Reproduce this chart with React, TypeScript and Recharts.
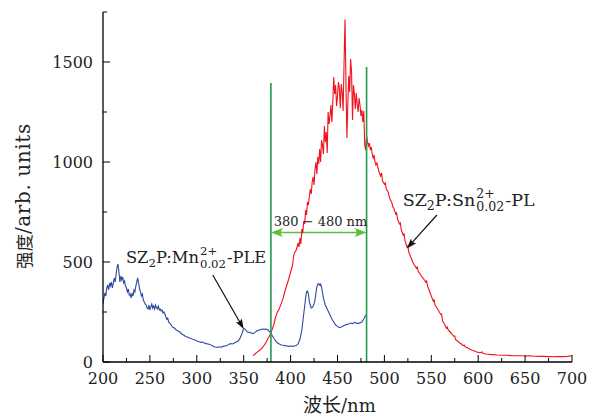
import React from 'react';
import { LineChart, Line, XAxis, YAxis, ReferenceLine, ReferenceDot, Label } from 'recharts';

// ---- data ----
const pleWavelength = [200,201,202,203,204,205,206,207,208,209,210,211,212,213,214,215,216,217,218,219,220,221,222,223,224,225,226,227,228,229,230,231,232,233,234,235,236,237,238,239,240,241,242,243,244,245,246,247,248,249,250,251,252,253,254,255,256,257,258,259,260,261,262,263,264,265,266,267,268,269,270,272,274,276,278,280,282,284,286,288,290,292,294,296,298,300,302,304,306,308,310,312,314,316,318,320,322,324,326,328,330,332,334,336,338,340,342,344,346,348,350,352,354,356,358,360,362,364,366,368,370,372,374,376,378,380,382,384,386,388,390,392,394,396,398,400,402,404,406,408,410,412,414,416,417,418,419,420,421,422,423,424,425,426,427,428,429,430,431,432,433,434,435,436,437,438,440,442,444,446,448,450,452,454,456,458,460,462,464,466,468,470,472,474,476,478,480];
const pleIntensity = [290,320,345,330,370,385,360,395,380,400,370,395,420,400,440,475,490,450,400,430,410,425,395,405,380,370,350,365,335,340,320,345,330,360,350,380,400,420,395,365,350,330,340,310,300,290,285,270,265,285,260,275,290,270,280,265,285,270,265,280,260,265,255,260,245,250,240,225,215,220,200,190,175,170,160,155,150,140,135,128,125,120,118,112,110,105,102,98,100,95,92,90,88,82,78,75,73,76,74,78,80,82,88,92,90,95,100,105,118,140,168,162,150,148,145,142,148,155,160,162,165,163,165,160,150,135,120,105,95,90,85,84,82,80,78,80,78,80,82,90,115,160,240,320,350,355,340,300,285,270,272,280,290,310,345,375,390,392,385,390,375,345,320,300,285,275,255,235,215,200,185,178,172,175,180,185,188,190,195,192,198,195,192,196,200,215,235];

const plWavelength = [360,362,364,366,368,370,372,374,376,378,380,382,384,386,388,390,392,394,396,398,400,402,403,404,406,408,409,410,411,412,413,414,415,416,417,418,419,420,421,422,423,424,425,426,427,428,429,430,431,432,433,434,435,436,437,438,439,440,441,442,443,444,445,446,447,448,449,450,451,452,453,454,455,456,457,458,459,460,461,462,463,464,465,466,467,468,469,470,471,472,473,474,475,476,477,478,479,480,481,482,483,484,485,486,487,488,489,490,491,492,494,496,497,498,500,501,502,504,505,506,508,509,510,512,513,514,516,517,518,520,521,522,524,525,526,528,529,530,532,534,535,536,538,540,542,544,545,546,548,550,552,553,554,556,558,560,561,562,564,566,567,568,570,572,574,575,576,578,580,582,584,585,586,588,590,592,594,596,598,600,602,604,605,608,612,616,620,625,630,635,640,645,650,655,660,665,670,675,680,685,690,695,700];
const plIntensity = [32,40,48,55,62,72,85,100,118,135,158,185,225,250,268,292,318,355,385,415,450,480,520,545,560,595,575,620,590,665,645,705,690,760,735,800,785,830,865,840,900,925,885,965,1000,940,1025,990,1065,1000,1110,1085,1040,1180,1100,1150,1045,1250,1190,1230,1285,1200,1300,1425,1340,1385,1280,1330,1400,1370,1270,1390,1350,1255,1500,1712,1400,1120,1285,1430,1350,1515,1450,1210,1385,1340,1265,1345,1290,1250,1320,1285,1230,1260,1200,1255,1085,1060,1130,1100,1080,1095,1060,1075,1040,1020,1035,1000,985,995,955,930,945,905,890,895,865,850,830,815,795,775,770,740,745,715,690,695,660,635,640,605,575,580,550,525,515,500,485,470,475,455,440,425,415,400,405,380,355,330,305,310,285,270,255,238,240,205,190,170,175,160,150,140,128,130,112,105,96,90,82,85,76,72,66,62,58,55,51,48,46,50,44,40,38,37,35,34,34,32,31,31,30,31,29,28,28,27,26,27,27,28,31];

const xTicks = [200,225,250,275,300,325,350,375,400,425,450,475,500,525,550,575,600,625,650,675,700];
const xMajorTicks = [200,250,300,350,400,450,500,550,600,650,700];
const yTicks = [0,250,500,750,1000,1250,1500,1750];
const yMajorTicks = [0,500,1000,1500];

const bandEdges = [379, 481];
const bandLineTops = [1395, 1475];
const bandArrowLevel = 648;

const pleData = pleWavelength.map((x, i) => ({ x, y: pleIntensity[i] }));
const plData = plWavelength.map((x, i) => ({ x, y: plIntensity[i] }));

// ---- styles ----
const SERIF = 'DejaVu Serif';
const CJK = 'Noto Sans CJK SC';
const BLUE = '#2d4aa0';
const RED = '#f0121c';
const GREEN = '#1f9a4c';
const LIGHT_GREEN = '#5dc03a';

const BottomTick = (props: any) => {
  const { x, y, payload } = props;
  const v = payload.value;
  const major = xMajorTicks.includes(v);
  return (
    <g>
      <line x1={x} x2={x} y1={y} y2={y - (major ? 7 : 4)} stroke="#000" strokeWidth={1} />
      {major && (
        <text x={x} y={y + 21.5} textAnchor="middle" fontFamily={SERIF} fontSize={16} fill="#222">{v}</text>
      )}
    </g>
  );
};

const LeftTick = (props: any) => {
  const { x, y, payload } = props;
  const v = payload.value;
  const major = yMajorTicks.includes(v);
  return (
    <g>
      <line x1={x} x2={x + (major ? 7 : 4)} y1={y} y2={y} stroke="#000" strokeWidth={1} />
      {major && (
        <text x={x - 10} y={y + 6} textAnchor="end" fontFamily={SERIF} fontSize={16} fill="#222">{v}</text>
      )}
    </g>
  );
};

const TopTick = (props: any) => {
  const { x, y } = props;
  return <line x1={x} x2={x} y1={y} y2={y + 3} stroke="#000" strokeWidth={1} />;
};

const RightTick = (props: any) => {
  const { x, y } = props;
  return <line x1={x} x2={x - 4} y1={y} y2={y} stroke="#000" strokeWidth={1} />;
};

const DoubleArrow = (p: any) => {
  const { x1, y1, x2 } = p;
  const L = 12;
  const W = 4.5;
  const y = y1;
  return (
    <g>
      <line x1={x1 + 4} y1={y} x2={x2 - 4} y2={y} stroke={LIGHT_GREEN} strokeWidth={1.5} />
      <path d={`M${x1},${y} L${x1 + L},${y - W} Q${x1 + L - 4},${y} ${x1 + L},${y + W} Z`} fill={LIGHT_GREEN} />
      <path d={`M${x2},${y} L${x2 - L},${y - W} Q${x2 - L + 4},${y} ${x2 - L},${y + W} Z`} fill={LIGHT_GREEN} />
    </g>
  );
};

const PointerArrow = (p: any) => {
  const { x1, y1, x2, y2 } = p;
  const dx = x2 - x1;
  const dy = y2 - y1;
  const len = Math.sqrt(dx * dx + dy * dy);
  const ux = dx / len;
  const uy = dy / len;
  const L = 10;
  const W = 3.5;
  const bx = x2 - ux * L;
  const by = y2 - uy * L;
  const px = -uy;
  const py = ux;
  return (
    <g>
      <line x1={x1} y1={y1} x2={bx + ux * 2} y2={by + uy * 2} stroke="#111" strokeWidth={1.2} />
      <path
        d={`M${x2},${y2} L${bx + px * W},${by + py * W} Q${bx + ux * 3},${by + uy * 3} ${bx - px * W},${by - py * W} Z`}
        fill="#111"
      />
    </g>
  );
};

const SampleLabel = (props: any, ion: string, kind: string, size: number) => {
  const { cx, cy } = props;
  const small = size * 0.72;
  return (
    <text x={cx} y={cy} fontFamily={SERIF} fontSize={size} fill="#222">
      <tspan>SZ</tspan>
      <tspan fontSize={small} dy={4}>2</tspan>
      <tspan dy={-4}>P:{ion}</tspan>
      <tspan fontSize={small} dx={1} dy={-8}>2+</tspan>
      <tspan fontSize={small} dx={-small * 1.474} dy={13}>0.02</tspan>
      <tspan dx={1} dy={-5}>-{kind}</tspan>
    </text>
  );
};

const RangeLabel = (props: any) => {
  const { cx, cy } = props;
  return (
    <text x={cx} y={cy} fontFamily={SERIF} fontSize={13} fill="#222">380 − 480 nm</text>
  );
};

const XLabel = (props: any) => {
  const { viewBox } = props;
  return (
    <text x={viewBox.x + 200} y={viewBox.y + 50} textAnchor="start" fill="#222">
      <tspan fontFamily={CJK} fontSize={19}>波长</tspan>
      <tspan fontFamily={SERIF} fontSize={18}>/nm</tspan>
    </text>
  );
};

const YLabel = () => {
  const cx = 23;
  const cy = 269;
  return (
    <text x={cx} y={cy} textAnchor="start" dominantBaseline="central" transform={`rotate(-90, ${cx}, ${cy})`} fill="#222">
      <tspan fontFamily={CJK} fontSize={17.5}>强度</tspan>
      <tspan fontFamily={SERIF} fontSize={20} letterSpacing={0.6}>/arb. units</tspan>
    </text>
  );
};

export default function App() {
  return (
    <div style={{ position: 'absolute', left: 0, top: 0, background: '#fff' }}>
      <LineChart width={589} height={416} margin={{ top: 12, right: 17, left: 0, bottom: 0 }}>
        <XAxis
          xAxisId={0}
          dataKey="x"
          type="number"
          domain={[200, 700]}
          ticks={xTicks}
          interval={0}
          allowDataOverflow
          height={54}
          tickSize={0}
          tickMargin={0}
          tickLine={false}
          tick={<BottomTick />}
          axisLine={{ stroke: '#000', strokeWidth: 1.3 }}
        >
          <Label content={<XLabel />} />
        </XAxis>
        <XAxis
          xAxisId="top"
          orientation="top"
          dataKey="x"
          type="number"
          domain={[200, 700]}
          ticks={xTicks}
          interval={0}
          allowDataOverflow
          height={0}
          tickSize={0}
          tickMargin={0}
          tickLine={false}
          tick={<TopTick />}
          axisLine={{ stroke: '#000', strokeWidth: 1.3 }}
        />
        <YAxis
          yAxisId={0}
          type="number"
          domain={[0, 1750]}
          ticks={yTicks}
          interval={0}
          allowDataOverflow
          width={103}
          tickSize={0}
          tickMargin={0}
          tickLine={false}
          tick={<LeftTick />}
          axisLine={{ stroke: '#000', strokeWidth: 1.3 }}
        >
          <Label content={<YLabel />} />
        </YAxis>
        <YAxis
          yAxisId="right"
          orientation="right"
          type="number"
          domain={[0, 1750]}
          ticks={yTicks}
          interval={0}
          allowDataOverflow
          width={0}
          tickSize={0}
          tickMargin={0}
          tickLine={false}
          tick={<RightTick />}
          axisLine={{ stroke: '#000', strokeWidth: 1.3 }}
        />
        <Line data={pleData} dataKey="y" type="linear" stroke={BLUE} strokeWidth={1.1} dot={false} isAnimationActive={false} />
        <ReferenceLine
          segment={[{ x: bandEdges[0], y: bandArrowLevel }, { x: bandEdges[1], y: bandArrowLevel }]}
          shape={DoubleArrow}
        />
        <Line data={plData} dataKey="y" type="linear" stroke={RED} strokeWidth={1.1} dot={false} isAnimationActive={false} />
        <ReferenceLine segment={[{ x: bandEdges[0], y: 0 }, { x: bandEdges[0], y: bandLineTops[0] }]} stroke={GREEN} strokeWidth={1.6} />
        <ReferenceLine segment={[{ x: bandEdges[1], y: 0 }, { x: bandEdges[1], y: bandLineTops[1] }]} stroke={GREEN} strokeWidth={1.6} />
        <ReferenceLine segment={[{ x: 317, y: 435 }, { x: 350, y: 165 }]} shape={PointerArrow} />
        <ReferenceLine segment={[{ x: 556, y: 735 }, { x: 524, y: 568 }]} shape={PointerArrow} />
        <ReferenceDot x={224.5} y={495} r={0} shape={(p: any) => SampleLabel(p, 'Mn', 'PLE', 16.3)} />
        <ReferenceDot x={519.5} y={780} r={0} shape={(p: any) => SampleLabel(p, 'Sn', 'PL', 17.5)} />
        <ReferenceDot x={382} y={682} r={0} shape={RangeLabel} />
      </LineChart>
    </div>
  );
}
